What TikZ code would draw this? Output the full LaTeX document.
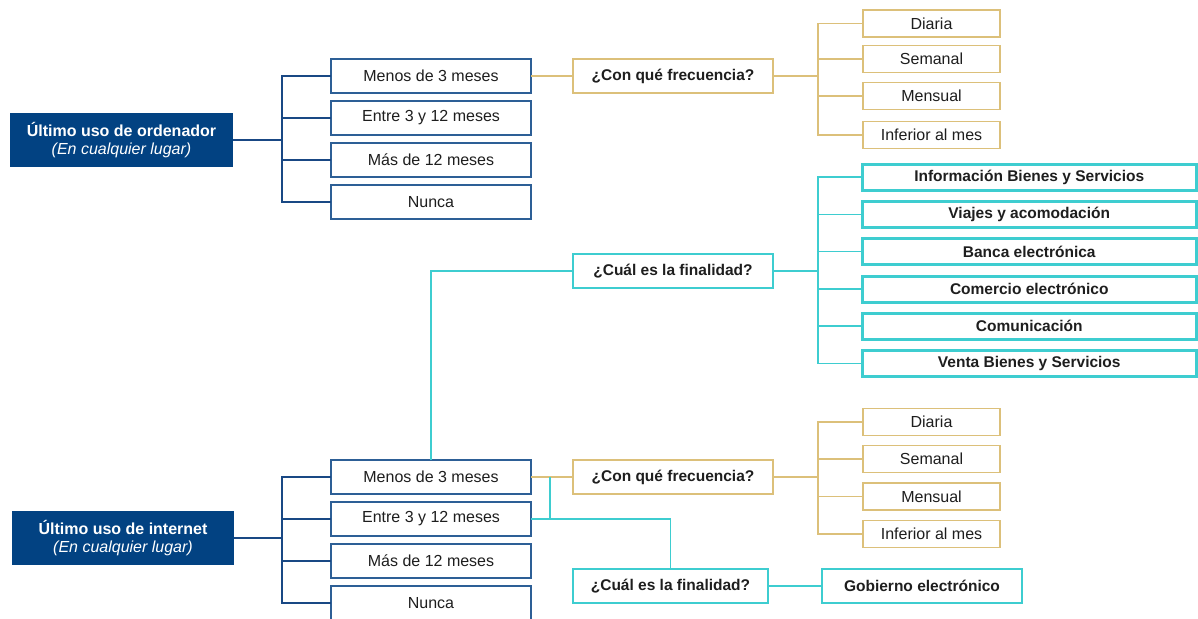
\documentclass[tikz,border=0pt]{standalone}
\usepackage{fontspec}
\setmainfont{Liberation Sans}
\definecolor{dblue}{RGB}{2,66,130}
\definecolor{bblue}{RGB}{45,95,150}
\definecolor{lblue}{RGB}{25,72,132}
\definecolor{gold}{RGB}{220,192,122}
\definecolor{cyn}{RGB}{62,205,208}
\definecolor{txt}{RGB}{30,30,30}
\begin{document}
\begin{tikzpicture}[x=1pt,y=-1pt,
  fnt/.style={font=\fontsize{16}{18}\selectfont},
  bfnt/.style={font=\fontsize{15.5}{18}\selectfont\bfseries},
  mainbox/.style={fill=dblue,text=white,inner sep=0pt,outer sep=0pt,align=center,minimum width=223pt,minimum height=54pt,fnt},
  bbox/.style={draw=bblue,line width=1.4pt,fill=white,text=txt,inner sep=0pt,outer sep=0pt,minimum width=200pt,minimum height=34pt,fnt},
  qgold/.style={draw=gold,line width=1.4pt,fill=white,text=txt,inner sep=0pt,outer sep=0pt,minimum width=200pt,minimum height=34pt,bfnt},
  qcyan/.style={draw=cyn,line width=1.4pt,fill=white,text=txt,inner sep=0pt,outer sep=0pt,minimum width=200pt,minimum height=34pt,bfnt},
  gbox/.style={draw=gold,line width=1.4pt,fill=white,text=txt,inner sep=0pt,outer sep=0pt,minimum width=137pt,minimum height=27pt,fnt},
  cbox/.style={draw=cyn,line width=3pt,fill=white,text=txt,inner sep=0pt,outer sep=0pt,minimum width=334.5pt,minimum height=26pt,bfnt},
  bline/.style={draw=lblue,line width=1.5pt},
  gline/.style={draw=gold,line width=1.3pt},
  cline/.style={draw=cyn,line width=1.3pt}]
\useasboundingbox (0,0) rectangle (1198,618);
\clip (0,0) rectangle (1198,618);
\coordinate (jb) at (282,0);
\coordinate (jr) at (818,0);
\coordinate (jc) at (550,0);
% connectors (drawn first, boxes on top)
\coordinate (m1e) at (233,140);
% top section
\node[mainbox] (m1) at (121.5,140) {\textbf{Último uso de ordenador}\\\textit{(En cualquier lugar)}};
\node[bbox] (t1) at (431,76) {Menos de 3 meses};
\node[bbox] (t2) at (431,118) {Entre 3 y 12 meses};
\node[bbox] (t3) at (431,160) {Más de 12 meses};
\node[bbox] (t4) at (431,202) {Nunca};
\node[qgold] (fq1) at (673,76) {¿Con qué frecuencia?};
\node[gbox] (d1) at (931.5,23.5) {Diaria};
\node[gbox] (d2) at (931.5,59) {Semanal};
\node[gbox] (d3) at (931.5,96) {Mensual};
\node[gbox] (d4) at (931.5,135) {Inferior al mes};
% middle
\node[qcyan] (fn1) at (673,271) {¿Cuál es la finalidad?};
\node[cbox] (p1) at (1029.25,177) {Información Bienes y Servicios};
\node[cbox] (p2) at (1029.25,214.5) {Viajes y acomodación};
\node[cbox] (p3) at (1029.25,251.5) {Banca electrónica};
\node[cbox] (p4) at (1029.25,289) {Comercio electrónico};
\node[cbox] (p5) at (1029.25,326) {Comunicación};
\node[cbox] (p6) at (1029.25,363.5) {Venta Bienes y Servicios};
% bottom section
\node[mainbox,minimum width=222pt] (m2) at (123,538) {\textbf{Último uso de internet}\\\textit{(En cualquier lugar)}};
\node[bbox] (u1) at (431,477) {Menos de 3 meses};
\node[bbox] (u2) at (431,519) {Entre 3 y 12 meses};
\node[bbox] (u3) at (431,561) {Más de 12 meses};
\node[bbox] (u4) at (431,603) {Nunca};
\node[qgold] (fq2) at (673,477) {¿Con qué frecuencia?};
\node[gbox] (e1) at (931.5,422) {Diaria};
\node[gbox] (e2) at (931.5,459) {Semanal};
\node[gbox] (e3) at (931.5,496.5) {Mensual};
\node[gbox] (e4) at (931.5,534) {Inferior al mes};
\node[qcyan,minimum width=195pt] (fn2) at (670.5,586) {¿Cuál es la finalidad?};
\node[qcyan] (gob) at (922,586) {Gobierno electrónico};
% connectors
\foreach \n in {t1,t2,t3,t4} \draw[bline] (m1.east) -- (m1.east -| jb) |- (\n.west);
\foreach \n in {u1,u2,u3,u4} \draw[bline] (m2.east) -- (m2.east -| jb) |- (\n.west);
\draw[gline] (t1.east) -- (fq1.west);
\foreach \n in {d1,d2,d3,d4} \draw[gline] (fq1.east) -- (fq1.east -| jr) |- (\n.west);
\draw[cline] (u1.north) |- (fn1.west);
\foreach \n in {p1,p2,p3,p4,p5,p6} \draw[cline] (fn1.east) -- (fn1.east -| jr) |- (\n.west);
\draw[gline] (u1.east) -- (fq2.west);
\foreach \n in {e1,e2,e3,e4} \draw[gline] (fq2.east) -- (fq2.east -| jr) |- (\n.west);
\draw[cline] (u1.east -| jc) -- (u2.east -| jc);
\draw[cline] (u2.east) -| (fn2.north);
\draw[cline] (fn2.east) -- (gob.west);
\end{tikzpicture}
\end{document}
